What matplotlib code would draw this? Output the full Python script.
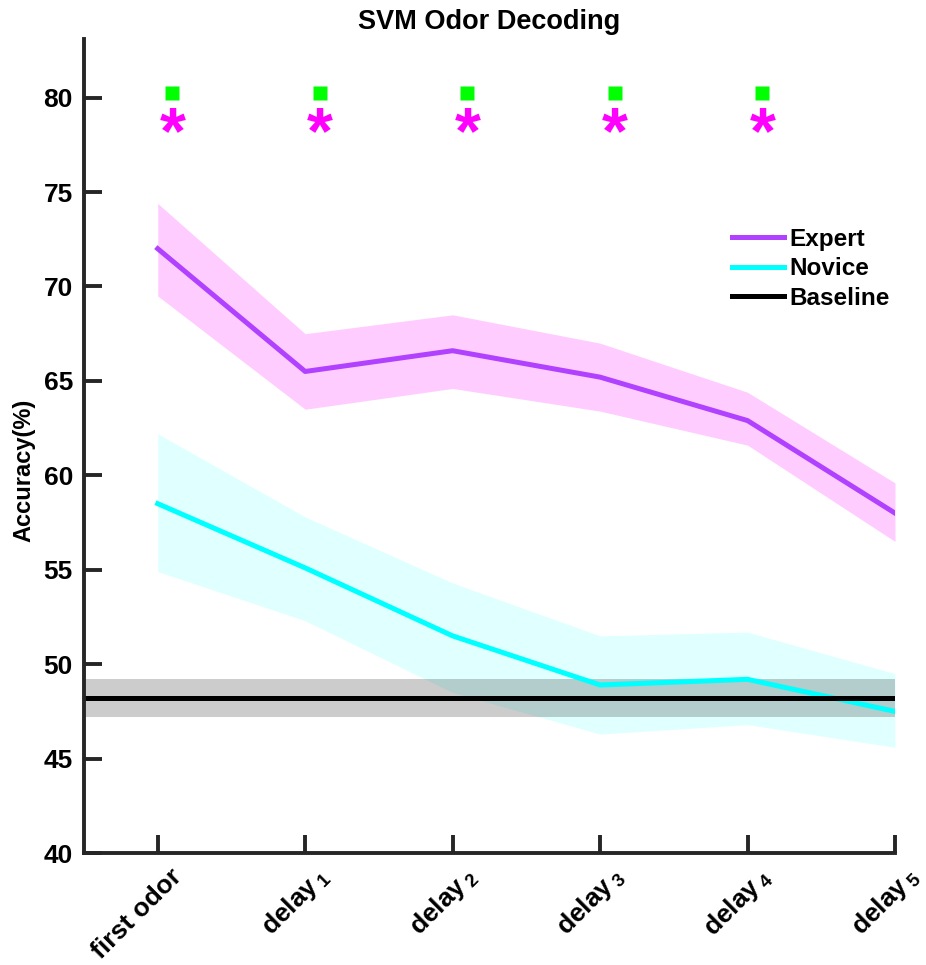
import matplotlib
matplotlib.use('Agg')
import matplotlib.pyplot as plt
import matplotlib.transforms as mtransforms
import numpy as np

plt.rcParams['font.family'] = ['Liberation Sans', 'DejaVu Sans']
plt.rcParams['font.weight'] = 'bold'
plt.rcParams['mathtext.fontset'] = 'custom'
plt.rcParams['mathtext.rm'] = 'Liberation Sans:bold'
plt.rcParams['mathtext.it'] = 'Liberation Sans:bold'
plt.rcParams['mathtext.bf'] = 'Liberation Sans:bold'

# data
labels = ['first odor', r'delay$\,_1$', r'delay$\,_2$', r'delay$\,_3$', r'delay$\,_4$', r'delay$\,_5$']
expert_mean = [72.0, 65.5, 66.6, 65.2, 62.9, 58.0]
expert_upper = [74.4, 67.5, 68.5, 67.0, 64.4, 59.6]
expert_lower = [69.5, 63.5, 64.6, 63.4, 61.6, 56.5]
novice_mean = [58.5, 55.1, 51.5, 48.9, 49.2, 47.5]
novice_upper = [62.2, 57.8, 54.3, 51.5, 51.7, 49.5]
novice_lower = [54.9, 52.3, 48.5, 46.3, 46.8, 45.6]
baseline_mean = 48.2
baseline_sem = 1.0
sig_index = [0, 1, 2, 3, 4]
sig_square_y = 80.27
sig_star_y = 77.05

x = np.arange(len(labels))

fig = plt.figure(figsize=(9.26, 9.65), dpi=100)
ax = fig.add_axes([0.0907, 0.116, 0.8758, 0.8435])

ax.fill_between(x, expert_lower, expert_upper, color='#FF00FF', alpha=0.2, lw=0)
ax.fill_between(x, novice_lower, novice_upper, color='#00FFFF', alpha=0.12, lw=0)
l1, = ax.plot(x, expert_mean, color='#B041FF', lw=3.6, label='Expert')
l2, = ax.plot(x, novice_mean, color='#00FFFF', lw=3.6, label='Novice')
ax.fill_between([-0.5, 5], baseline_mean - baseline_sem, baseline_mean + baseline_sem,
                color='black', alpha=0.2, lw=0)
l3, = ax.plot([-0.5, 5], [baseline_mean, baseline_mean], color='black', lw=3.6, label='Baseline')

# significance marks
xs = np.array(sig_index) + 0.1
ax.plot(xs, [sig_square_y] * len(xs), 's', color='#00FF00', ms=9.5, mec='none')
for xi in xs:
    ax.text(xi, sig_star_y, '*', color='#FF00FF', fontsize=48, fontweight='bold',
            ha='center', va='baseline')

ax.set_xlim(-0.5, 5)
ax.set_ylim(40, 83.1)
ax.set_yticks(np.arange(40, 81, 5))
ax.set_xticks(x)

for s in ['top', 'right']:
    ax.spines[s].set_visible(False)
for s in ['left', 'bottom']:
    ax.spines[s].set_linewidth(2.8)
    ax.spines[s].set_color('#262626')
ax.tick_params(direction='in', width=2.8, color='#262626', labelsize=19, length=13)
ax.tick_params(axis='y', pad=8)
ax.tick_params(axis='x', pad=14)

ax.set_xticklabels(labels, rotation=45, ha='right', va='center', rotation_mode='anchor')
# MATLAB puts the end of the rotated label a bit right of the tick
shift = mtransforms.ScaledTranslation(0.2, 0, fig.dpi_scale_trans)
for lab in ax.get_xticklabels():
    lab.set_transform(lab.get_transform() + shift)

ax.set_ylabel('Accuracy(%)', fontsize=17, fontweight='bold')
ax.yaxis.set_label_coords(-0.06, 0.47)
ax.set_title('SVM Odor Decoding', fontsize=19.5, fontweight='bold', pad=7)

ax.legend(handles=[l1, l2, l3], loc='upper left', bbox_to_anchor=(0.772, 0.795),
          frameon=False, fontsize=17.5, handlelength=2.15, handletextpad=0.2,
          labelspacing=0.27)

fig.savefig('out.png', dpi=100)
